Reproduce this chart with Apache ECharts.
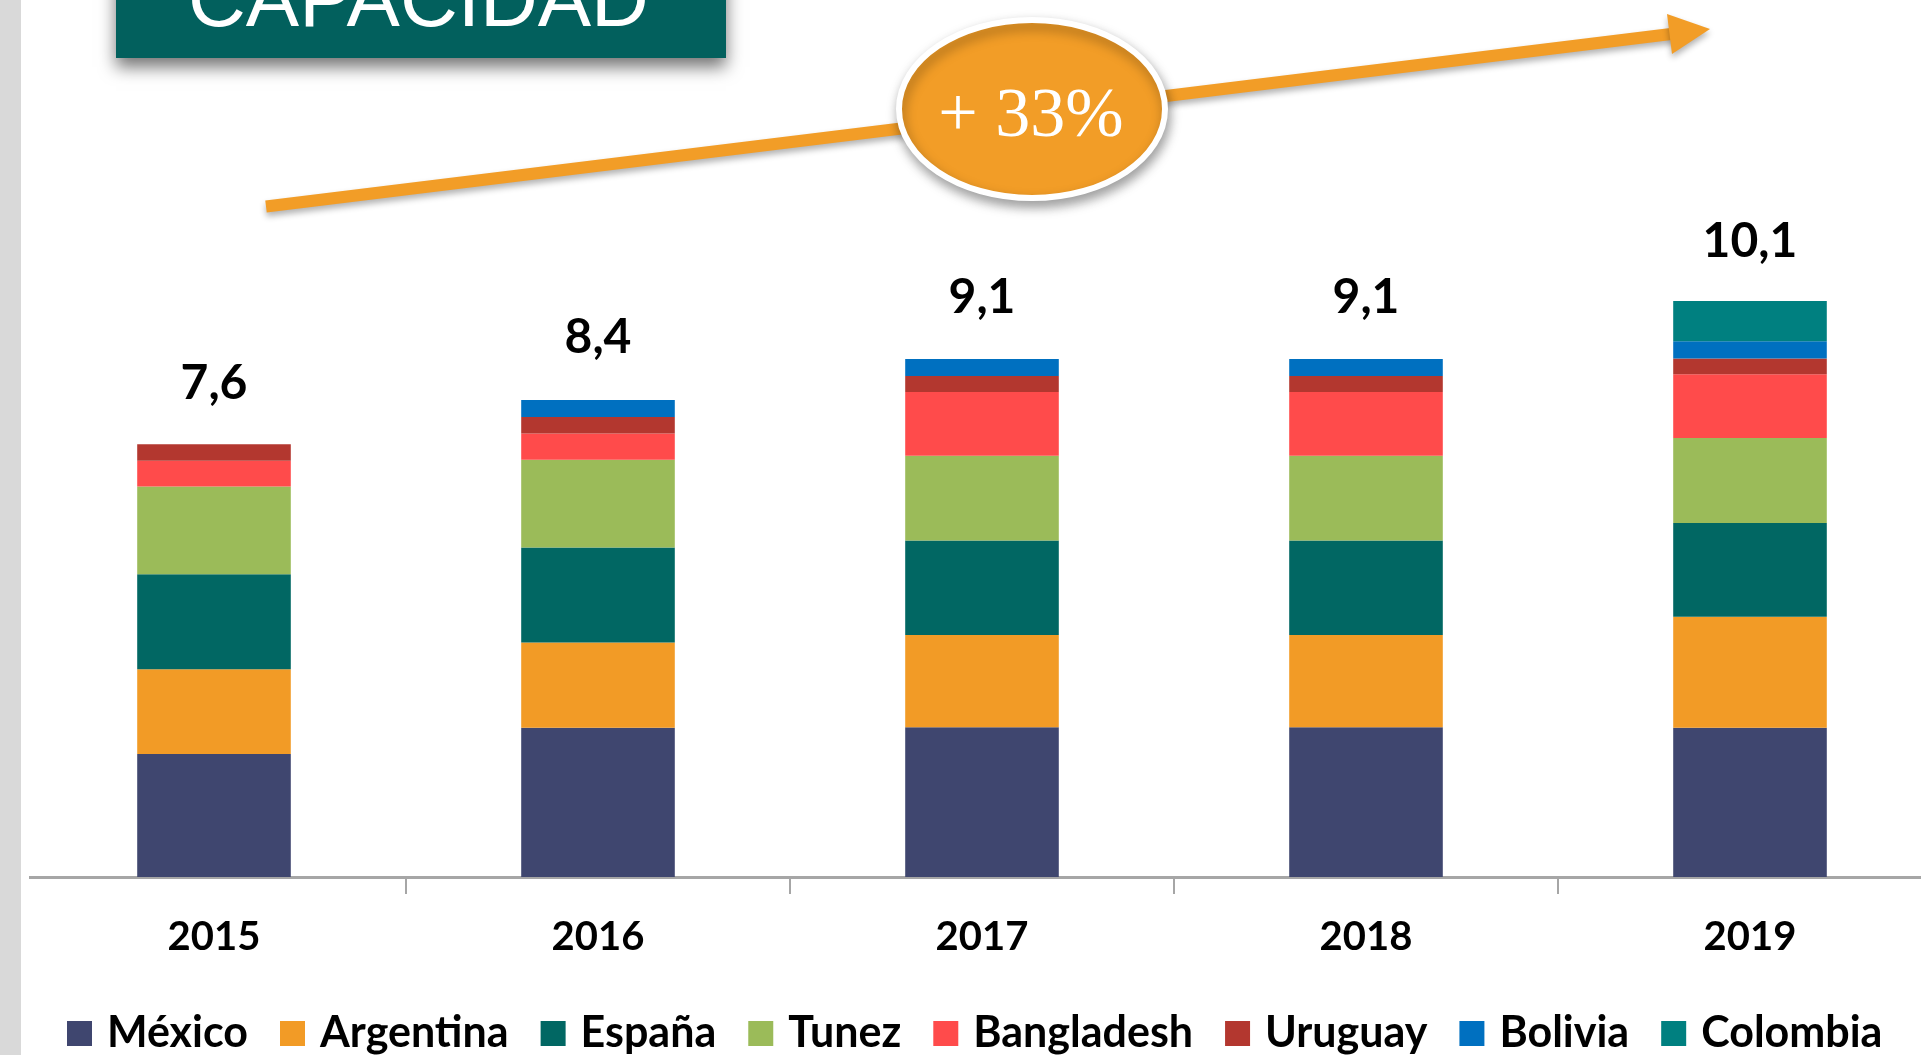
<!DOCTYPE html>
<html>
<head>
<meta charset="utf-8">
<script src="https://cdn.jsdelivr.net/npm/echarts@6/dist/echarts.min.js"></script>
<style>
  html, body { margin: 0; padding: 0; background: #ffffff; overflow: hidden; }
  #chart { width: 1962px; height: 1055px; }
</style>
</head>
<body>
<div id="chart"></div>
<script>
// ---- data ----
const years = ['2015', '2016', '2017', '2018', '2019'];
const seriesNames = ['México', 'Argentina', 'España', 'Tunez', 'Bangladesh', 'Uruguay', 'Bolivia', 'Colombia'];
const mexico     = [2.16, 2.62, 2.63, 2.63, 2.62];
const argentina  = [1.49, 1.50, 1.62, 1.62, 1.95];
const espana     = [1.67, 1.67, 1.66, 1.66, 1.65];
const tunez      = [1.54, 1.54, 1.49, 1.49, 1.49];
const bangladesh = [0.45, 0.46, 1.12, 1.12, 1.12];
const uruguay    = [0.29, 0.29, 0.28, 0.28, 0.28];
const bolivia    = [0,    0.30, 0.30, 0.30, 0.30];
const colombia   = [0,    0,    0,    0,    0.71];
const totals     = [7.6, 8.4, 9.1, 9.1, 10.1];
const growthLabel = '+ 33%';
const titleText = 'CAPACIDAD';

const seriesValues = [mexico, argentina, espana, tunez, bangladesh, uruguay, bolivia, colombia];
const colors = ['#3f466f', '#f29b26', '#016763', '#9bbb59', '#ff4b4b', '#b3372f', '#0070c0', '#008080'];

const chart = echarts.init(document.getElementById('chart'), null, { renderer: 'canvas' });

const series = seriesNames.map((name, i) => ({
  name: name,
  type: 'bar',
  stack: 'total',
  barCategoryGap: '60%',
  itemStyle: { color: colors[i] },
  emphasis: { disabled: true },
  data: seriesValues[i]
}));

series.push({
  name: 'Total',
  type: 'line',
  data: totals,
  symbol: 'circle',
  symbolSize: 2,
  showSymbol: true,
  itemStyle: { color: 'rgba(0,0,0,0)' },
  lineStyle: { width: 0, color: 'rgba(0,0,0,0)' },
  silent: true,
  z: 5,
  label: {
    show: true,
    position: 'top',
    distance: 36,
    fontFamily: 'Lato',
    fontWeight: 'bold',
    fontSize: 48,
    color: '#000000',
    formatter: p => String(p.value).replace('.', ',')
  }
});

const ARROW = '#f29d27';

const option = {
  animation: false,
  backgroundColor: '#ffffff',
  grid: { left: 22, width: 1920, top: 80, bottom: 178, containLabel: false },
  xAxis: {
    type: 'category',
    data: years,
    axisLine: { show: true, lineStyle: { color: '#a6a6a6', width: 3 } },
    axisTick: { show: true, length: 17, lineStyle: { color: '#a6a6a6', width: 2 } },
    axisLabel: {
      margin: 40,
      fontFamily: 'Lato',
      fontWeight: 'bold',
      fontSize: 40,
      color: '#000000'
    }
  },
  yAxis: {
    type: 'value',
    min: 0,
    max: 14,
    interval: 2,
    show: false,
    splitLine: { show: false }
  },
  legend: {
    data: seriesNames,
    left: 62,
    top: 1007,
    icon: 'rect',
    itemWidth: 25,
    itemHeight: 25,
    itemGap: 32,
    selectedMode: false,
    textStyle: {
      fontFamily: 'Lato',
      fontWeight: 'bold',
      fontSize: 43,
      color: '#000000',
      padding: [0, 0, 0, 10]
    }
  },
  series: series,
  graphic: [
    // grey strip at left
    { type: 'rect', z: 100, shape: { x: 0, y: 0, width: 21, height: 1055 }, style: { fill: '#d9d9d9' } },
    { type: 'rect', z: 100, shape: { x: 21, y: 860, width: 8, height: 40 }, style: { fill: '#ffffff' } },
    // title box
    {
      type: 'rect', z: 50,
      shape: { x: 116, y: -40, width: 610, height: 98 },
      style: { fill: '#02605d', shadowBlur: 16, shadowOffsetY: 9, shadowOffsetX: 0, shadowColor: 'rgba(0,0,0,0.55)' }
    },
    {
      type: 'text', z: 51,
      style: { text: titleText, x: 188, y: 4, fill: '#ffffff', font: '80px "Liberation Sans", Arial, sans-serif', align: 'left', verticalAlign: 'middle' }
    },
    // arrow
    {
      type: 'line', z: 40,
      shape: { x1: 266, y1: 206.5, x2: 1675, y2: 33.5 },
      style: { stroke: ARROW, lineWidth: 12, lineCap: 'butt', shadowBlur: 6, shadowOffsetY: 4, shadowColor: 'rgba(0,0,0,0.3)' }
    },
    {
      type: 'polygon', z: 41,
      shape: { points: [[1667, 14], [1710, 29], [1672, 54]] },
      style: { fill: ARROW, shadowBlur: 6, shadowOffsetY: 4, shadowColor: 'rgba(0,0,0,0.3)' }
    },
    // ellipse badge
    {
      type: 'ellipse', z: 60,
      shape: { cx: 1032, cy: 109, rx: 133, ry: 89 },
      style: { fill: ARROW, stroke: '#ffffff', lineWidth: 6, shadowBlur: 12, shadowOffsetY: 6, shadowOffsetX: 2, shadowColor: 'rgba(0,0,0,0.35)' }
    },
    {
      type: 'text', z: 61,
      style: { text: growthLabel, x: 1031, y: 118, fill: '#ffffff', font: '70px "Liberation Serif", "Times New Roman", serif', align: 'center', verticalAlign: 'middle' }
    }
  ]
};

chart.setOption(option);
</script>
</body>
</html>
